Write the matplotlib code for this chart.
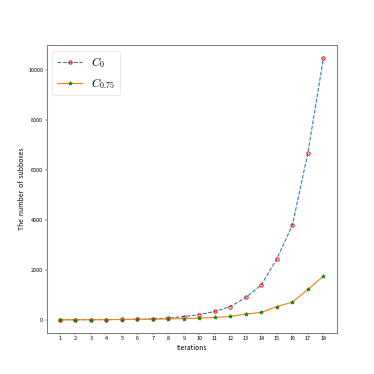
import matplotlib.pyplot as plt

plt.rcParams['font.family'] = ['Noto Sans CJK SC', 'DejaVu Sans']
plt.rcParams['mathtext.fontset'] = 'cm'

iterations = list(range(1, 19))
c0 = [1, 2, 4, 8, 14, 20, 35, 70, 130, 210, 335, 530, 900, 1400, 2450, 3800, 6700, 10500]
c075 = [1, 2, 4, 6, 10, 15, 25, 35, 50, 70, 94, 134, 230, 300, 530, 710, 1220, 1750]

fig = plt.figure(figsize=(10, 10), dpi=37.4)
ax = plt.gca()
plt.plot(iterations, c0, '--', color='tab:blue', linewidth=2, marker='o', markersize=6.5,
         markerfacecolor='none', markeredgecolor='red', markeredgewidth=1.8, label=r'$C_0$')
plt.plot(iterations, c075, '-', color='tab:orange', linewidth=2.2, marker='*', markersize=8,
         markerfacecolor='green', markeredgecolor='green', label=r'$C_{0.75}$')

for s in ax.spines.values():
    s.set_color('gray')
    s.set_linewidth(2)
ax.tick_params(colors='black', labelsize=10.5)

plt.xticks(iterations)
plt.xlabel('Iterations', fontsize=13)
plt.ylabel('The  number  of  subboxes', fontsize=13)
plt.legend(loc='upper left', fontsize=22, handlelength=2.2)

plt.savefig('out.png', dpi=37.4)
